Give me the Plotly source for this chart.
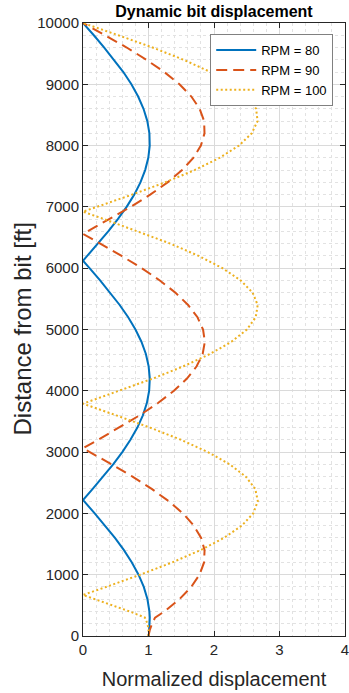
import plotly.graph_objects as go

# ---- data ----
depth_80 = [0, 100, 200, 300, 400, 600, 800, 1000, 1200, 1400, 1600, 1800, 2000, 2200, 2219,
            2400, 2600, 2800, 3000, 3200, 3400, 3600, 3800, 4000, 4200, 4400, 4600, 4800, 5000,
            5200, 5400, 5600, 5800, 6000, 6122, 6200, 6400, 6600, 6800, 7000, 7200, 7400, 7600,
            7800, 8000, 8200, 8400, 8600, 8800, 9000, 9200, 9400, 9600, 9800, 10000]
disp_80 = [1.005, 1.012, 1.018, 1.020, 1.014, 0.984, 0.928, 0.848, 0.746, 0.625, 0.488, 0.338,
           0.179, 0.016, 0.0, 0.148, 0.308, 0.460, 0.600, 0.724, 0.830, 0.914, 0.975, 1.010,
           1.020, 1.002, 0.960, 0.892, 0.801, 0.690, 0.560, 0.417, 0.261, 0.100, 0.0, 0.064,
           0.228, 0.385, 0.532, 0.666, 0.782, 0.877, 0.949, 0.997, 1.019, 1.014, 0.982, 0.924,
           0.842, 0.739, 0.616, 0.476, 0.324, 0.165, 0.0]

depth_90 = [0, 100, 200, 300, 400, 600, 800, 1000, 1200, 1400, 1600, 1800, 2000, 2200, 2400,
            2600, 2800, 3000, 3062, 3200, 3400, 3600, 3800, 4000, 4200, 4400, 4600, 4800, 5000,
            5200, 5400, 5600, 5800, 6000, 6200, 6400, 6560, 6600, 6800, 7000, 7200, 7400, 7600,
            7800, 8000, 8200, 8400, 8600, 8800, 9000, 9200, 9400, 9600, 9800, 10000]
disp_90 = [1.0, 1.02, 1.055, 1.10, 1.242, 1.472, 1.652, 1.779, 1.848, 1.856, 1.804, 1.692,
           1.526, 1.308, 1.049, 0.756, 0.437, 0.104, 0.0, 0.230, 0.556, 0.864, 1.145, 1.388,
           1.587, 1.735, 1.827, 1.860, 1.833, 1.748, 1.605, 1.413, 1.173, 0.897, 0.590, 0.266,
           0.0, 0.068, 0.404, 0.727, 1.026, 1.291, 1.513, 1.684, 1.800, 1.855, 1.849, 1.781,
           1.654, 1.473, 1.241, 0.968, 0.667, 0.339, 0.0]

depth_100 = [0, 100, 200, 300, 400, 600, 669, 800, 1000, 1200, 1400, 1600, 1800, 2000, 2200,
             2400, 2600, 2800, 3000, 3200, 3400, 3600, 3790, 3800, 4000, 4200, 4400, 4600, 4800,
             5000, 5200, 5400, 5600, 5800, 6000, 6200, 6400, 6600, 6800, 6922, 7000, 7200, 7400,
             7600, 7800, 8000, 8200, 8400, 8600, 8800, 9000, 9200, 9400, 9600, 9800, 10000]
disp_100 = [1.0, 1.0, 0.985, 0.945, 0.714, 0.185, 0.0, 0.351, 0.873, 1.360, 1.792, 2.152,
            2.424, 2.599, 2.669, 2.630, 2.485, 2.242, 1.907, 1.498, 1.022, 0.507, 0.0, 0.027,
            0.558, 1.067, 1.534, 1.938, 2.266, 2.502, 2.637, 2.667, 2.590, 2.409, 2.130, 1.768,
            1.337, 0.846, 0.326, 0.0, 0.212, 0.748, 1.252, 1.703, 2.085, 2.380, 2.576, 2.665,
            2.643, 2.511, 2.276, 1.947, 1.537, 1.062, 0.540, 0.0]

series_names = ["RPM = 80", "RPM = 90", "RPM = 100"]
x_ticks = [0, 1, 2, 3, 4]
y_ticks = [0, 1000, 2000, 3000, 4000, 5000, 6000, 7000, 8000, 9000, 10000]

FONT = "Liberation Sans, Arial, Helvetica, sans-serif"
AX = "#262626"

fig = go.Figure()
fig.add_trace(go.Scatter(x=disp_80, y=depth_80, mode="lines", name=series_names[0],
                         line=dict(color="#0072BD", width=2)))
fig.add_trace(go.Scatter(x=disp_90, y=depth_90, mode="lines", name=series_names[1],
                         line=dict(color="#D95319", width=2, dash="11px,6px")))
fig.add_trace(go.Scatter(x=disp_100, y=depth_100, mode="lines", name=series_names[2],
                         line=dict(color="#EDB120", width=2, dash="2px,2.5px")))

axis_common = dict(
    showline=True, linecolor=AX, linewidth=1, mirror="allticks",
    ticks="inside", ticklen=5, tickcolor=AX, tickwidth=1,
    showgrid=True, gridcolor="#dadada", gridwidth=1,
    zeroline=False, ticklabeloverflow="allow",
    tickfont=dict(family=FONT, size=15, color=AX),
)

fig.update_layout(
    width=349, height=693,
    margin=dict(l=83, r=0, t=23, b=57),
    paper_bgcolor="white", plot_bgcolor="white",
    font=dict(family=FONT, color=AX),
    title=dict(text="<b>Dynamic bit displacement</b>", x=0.5, xref="paper",
               y=1 - 11 / 693, yref="container", yanchor="middle", xanchor="center",
               font=dict(family=FONT, size=16, color="black")),
    xaxis=dict(range=[0, 4], tickvals=x_ticks, ticktext=[str(v) for v in x_ticks],
               minor=dict(dtick=0.2, showgrid=True, gridcolor="#e2e2e2", griddash="dot",
                          gridwidth=1, ticklen=0),
               title=dict(text="Normalized displacement", standoff=14,
                          font=dict(family=FONT, size=20, color=AX)),
               **axis_common),
    yaxis=dict(range=[0, 10000], tickvals=y_ticks, ticktext=[str(v) for v in y_ticks],
               minor=dict(dtick=200, showgrid=True, gridcolor="#e2e2e2", griddash="dot",
                          gridwidth=1, ticklen=0),
               **axis_common),
    legend=dict(x=0.955, y=0.982, xanchor="right", yanchor="top",
                bgcolor="white", bordercolor="#808080", borderwidth=1,
                font=dict(family=FONT, size=13, color="black"),
                tracegroupgap=0, itemwidth=40),
    showlegend=True,
    annotations=[dict(text="Distance from bit [ft]", textangle=-90,
                      xref="paper", yref="paper", x=0, y=0.5,
                      xanchor="center", yanchor="middle", xshift=-61, showarrow=False,
                      font=dict(family=FONT, size=24, color=AX))],
)

fig.write_html("out.html")
